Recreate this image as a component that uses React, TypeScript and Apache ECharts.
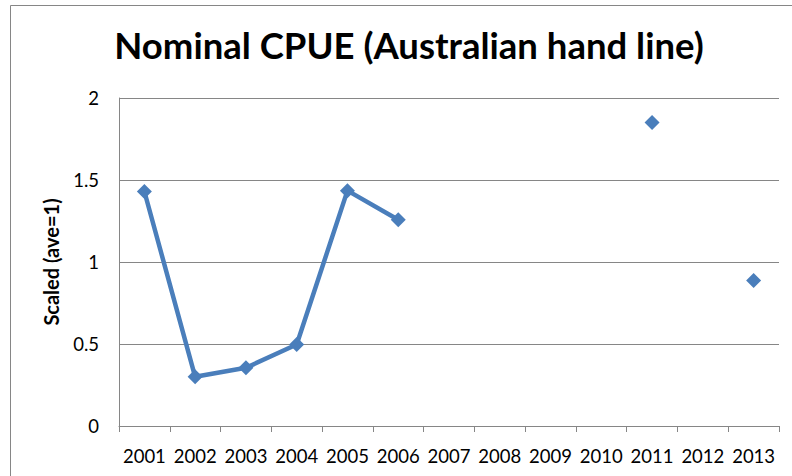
import React, { useEffect, useRef } from "react";
import * as echarts from "echarts";

const years = ["2001","2002","2003","2004","2005","2006","2007","2008","2009","2010","2011","2012","2013"];
const cpue: (number | null)[] = [1.43, 0.30, 0.355, 0.497, 1.435, 1.258, null, null, null, null, 1.85, null, 0.887];
const yTicks = { min: 0, max: 2, interval: 0.5 };
const titleText = "Nominal CPUE (Australian hand line)";
const yAxisTitle = "Scaled (ave=1)";

export default function App() {
  const ref = useRef<HTMLDivElement>(null);
  useEffect(() => {
    document.body.style.margin = "0";
    if (!ref.current) return;
    const chart = echarts.init(ref.current, null, { renderer: "svg" });
    const font = "Lato, 'Liberation Sans', sans-serif";
    const blue = "#4a7ebb";
    const gray = "#868686";
    chart.setOption({
      animation: false,
      backgroundColor: "#ffffff",
      title: {
        text: titleText,
        left: 404,
        textAlign: "center",
        top: 21,
        textStyle: { fontFamily: font, fontWeight: "bold", fontSize: 36.5, color: "#000" },
      },
      graphic: [
        {
          type: "rect",
          shape: { x: 10.5, y: 5.5, width: 900, height: 600 },
          style: { fill: "none", stroke: gray, lineWidth: 1 },
          silent: true,
        },
      ],
      grid: { left: 119, right: 13, top: 98, bottom: 50, containLabel: false },
      xAxis: {
        type: "category",
        data: years,
        boundaryGap: true,
        axisLine: { show: true, lineStyle: { color: gray, width: 1 } },
        axisTick: { show: true, alignWithLabel: false, length: 6, inside: false, lineStyle: { color: gray } },
        axisLabel: { fontFamily: font, fontSize: 18.5, color: "#000", margin: 20, interval: 0 },
        splitLine: { show: false },
      },
      yAxis: {
        type: "value",
        min: yTicks.min,
        max: yTicks.max,
        interval: yTicks.interval,
        name: yAxisTitle,
        nameLocation: "middle",
        nameGap: 58,
        nameRotate: 90,
        nameTextStyle: { fontFamily: font, fontWeight: "bold", fontSize: 20, color: "#000" },
        axisLine: { show: true, lineStyle: { color: gray, width: 1 } },
        axisTick: { show: false },
        axisLabel: { fontFamily: font, fontSize: 18.5, color: "#000", margin: 20 },
        splitLine: { show: true, lineStyle: { color: gray, width: 1 } },
      },
      series: [
        {
          type: "line",
          data: cpue,
          connectNulls: false,
          symbol: "diamond",
          symbolSize: 15,
          showSymbol: true,
          showAllSymbol: true,
          lineStyle: { color: blue, width: 4.5 },
          itemStyle: { color: blue },
        },
      ],
    });
    return () => chart.dispose();
  }, []);
  return <div ref={ref} style={{ width: 792, height: 476 }} />;
}
